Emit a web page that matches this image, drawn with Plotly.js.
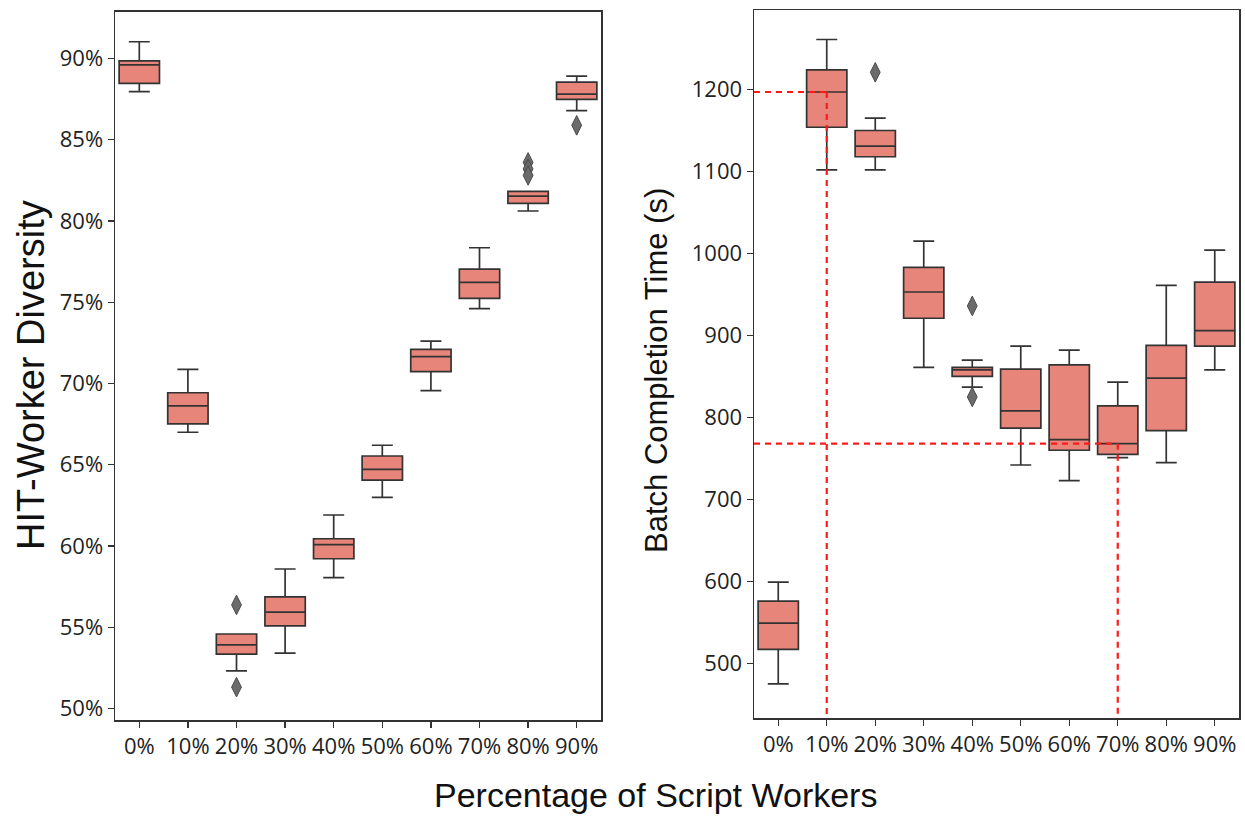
<!DOCTYPE html>
<html>
<head>
<meta charset="utf-8">
<script src="https://cdn.plot.ly/plotly-3.0.1.min.js"></script>
<style>
  html, body { margin: 0; padding: 0; background: #ffffff; }
  #chart { width: 1245px; height: 818px; }
</style>
</head>
<body>
<div id="chart"></div>
<script>
// Share of script workers in each batch
const categories = ['0%', '10%', '20%', '30%', '40%', '50%', '60%', '70%', '80%', '90%'];

// HIT-worker diversity (%) box statistics
const divLow  = [87.95, 67.00, 52.32, 53.41, 58.06, 63.00, 69.56, 74.60, 80.61, 86.78];
const divQ1   = [88.46, 67.51, 53.35, 55.09, 59.22, 64.06, 70.73, 75.24, 81.08, 87.48];
const divMed  = [89.60, 68.62, 53.92, 55.93, 60.09, 64.72, 71.65, 76.22, 81.53, 87.80];
const divQ3   = [89.85, 69.43, 54.59, 56.87, 60.45, 65.54, 72.10, 77.04, 81.82, 88.54];
const divHigh = [91.02, 70.87, 54.59, 58.59, 61.91, 66.20, 72.61, 78.35, 81.82, 88.91];
const divOutlierCat = ['20%', '20%', '80%', '80%', '80%', '90%'];
const divOutlierVal = [56.38, 51.32, 83.60, 83.20, 82.80, 85.88];
const divTicks = [50, 55, 60, 65, 70, 75, 80, 85, 90];

// Batch completion time (s) box statistics
const timeLow  = [475, 1102, 1102, 861, 837, 742, 723, 751, 745, 858];
const timeQ1   = [517, 1154, 1118, 921, 850, 787, 760, 755, 784, 887];
const timeMed  = [549, 1197, 1131, 953, 858, 808, 773, 768, 848, 906];
const timeQ3   = [576, 1224, 1150, 983, 861, 859, 864, 814, 888, 965];
const timeHigh = [599, 1261, 1165, 1015, 870, 887, 882, 843, 961, 1004];
const timeOutlierCat = ['20%', '40%', '40%'];
const timeOutlierVal = [1221, 936, 825];
const timeTicks = [500, 600, 700, 800, 900, 1000, 1100, 1200];

// Batches whose median time is marked with guide lines
const markedCats = ['10%', '70%'];

const boxFill = '#e8857a';
const edge = '#333333';
const tickFont = { family: 'Open Sans, sans-serif', size: 22, color: '#222' };
const titleFamily = 'Liberation Sans, Arial, sans-serif';

function boxTrace(q1, med, q3, lo, hi, xa, ya) {
  return {
    type: 'box', x: categories, q1: q1, median: med, q3: q3,
    lowerfence: lo, upperfence: hi,
    width: 0.83, whiskerwidth: 0.52,
    fillcolor: boxFill, line: { color: edge, width: 1.7 },
    boxpoints: false, xaxis: xa, yaxis: ya, showlegend: false, hoverinfo: 'skip'
  };
}
function outlierTrace(xs, ys, xa, ya) {
  return {
    type: 'scatter', mode: 'markers', x: xs, y: ys, xaxis: xa, yaxis: ya,
    marker: { symbol: 'diamond-tall', size: 14, color: '#6b6b6b', line: { color: '#4a4a4a', width: 1 } },
    showlegend: false, hoverinfo: 'skip'
  };
}

const data = [
  boxTrace(divQ1, divMed, divQ3, divLow, divHigh, 'x', 'y'),
  outlierTrace(divOutlierCat, divOutlierVal, 'x', 'y'),
  boxTrace(timeQ1, timeMed, timeQ3, timeLow, timeHigh, 'x2', 'y2'),
  outlierTrace(timeOutlierCat, timeOutlierVal, 'x2', 'y2')
];

const timeRange = [433, 1297];

// Dashed guides from the y axis to each marked median, then down to the x axis
const shapes = [];
markedCats.forEach(c => {
  const i = categories.indexOf(c);
  const m = timeMed[i];
  const dashLine = { color: '#ff1a1a', width: 2.2, dash: '6px,5px' };
  shapes.push({ type: 'line', xref: 'x2', yref: 'y2', x0: -0.5, x1: i, y0: m, y1: m, line: dashLine, layer: 'above' });
  shapes.push({ type: 'line', xref: 'x2', yref: 'y2', x0: i, x1: i, y0: m, y1: timeRange[0], line: dashLine, layer: 'above' });
});

const axisCommon = {
  showgrid: false, zeroline: false, showline: true, mirror: true,
  linecolor: edge, linewidth: 1.5, ticks: 'outside', ticklen: 6, tickwidth: 1.4, tickcolor: edge,
  tickfont: tickFont, fixedrange: true
};

const layout = {
  width: 1245, height: 818,
  margin: { l: 0, r: 0, t: 0, b: 0 },
  paper_bgcolor: '#ffffff', plot_bgcolor: '#ffffff',
  showlegend: false,
  xaxis: Object.assign({}, axisCommon, {
    domain: [115 / 1245, 601 / 1245], anchor: 'y', type: 'category',
    categoryorder: 'array', categoryarray: categories, range: [-0.5, 9.5], tickangle: 0
  }),
  yaxis: Object.assign({}, axisCommon, {
    domain: [(818 - 720) / 818, (818 - 11.7) / 818], anchor: 'x',
    range: [49.3, 92.87], tickvals: divTicks, ticktext: divTicks.map(v => v + '%')
  }),
  xaxis2: Object.assign({}, axisCommon, {
    domain: [754 / 1245, 1239 / 1245], anchor: 'y2', type: 'category',
    categoryorder: 'array', categoryarray: categories, range: [-0.5, 9.5], tickangle: 0
  }),
  yaxis2: Object.assign({}, axisCommon, {
    domain: [(818 - 718.3) / 818, (818 - 10) / 818], anchor: 'x2',
    range: timeRange, tickvals: timeTicks
  }),
  shapes: shapes,
  annotations: [
    { text: 'HIT-Worker Diversity', xref: 'paper', yref: 'paper', x: 31 / 1245, y: (818 - 375) / 818,
      textangle: -90, showarrow: false, font: { family: titleFamily, size: 38, color: '#111' },
      xanchor: 'center', yanchor: 'middle' },
    { text: 'Batch Completion Time (s)', xref: 'paper', yref: 'paper', x: 657 / 1245, y: (818 - 371) / 818,
      textangle: -90, showarrow: false, font: { family: titleFamily, size: 31, color: '#111' },
      xanchor: 'center', yanchor: 'middle' },
    { text: 'Percentage of Script Workers', xref: 'paper', yref: 'paper', x: 655 / 1245, y: (818 - 795) / 818,
      showarrow: false, font: { family: titleFamily, size: 34, color: '#111' },
      xanchor: 'center', yanchor: 'middle' }
  ]
};

Plotly.newPlot('chart', data, layout, { displayModeBar: false, staticPlot: true });
</script>
</body>
</html>
